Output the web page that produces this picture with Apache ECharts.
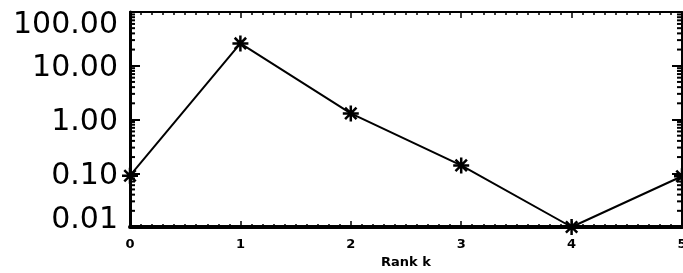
<!DOCTYPE html>
<html>
<head>
<meta charset="utf-8">
<script src="https://cdn.jsdelivr.net/npm/echarts@6/dist/echarts.min.js"></script>
<style>
  html, body { margin: 0; padding: 0; background: #fff; }
  #chart { width: 683px; height: 273px; }
</style>
</head>
<body>
<div id="chart"></div>
<script>
  // rank k and the value at each rank
  const ranks = [0, 1, 2, 3, 4, 5]
  const values = [0.09, 26, 1.3, 0.14, 0.01, 0.088]
  // log minor tick values (2..9 in every decade)
  const decades = [0.01, 0.1, 1, 10]
  const minorSteps = [2, 3, 4, 5, 6, 7, 8, 9]
  const yMinor = []
  decades.forEach(d => minorSteps.forEach(k => yMinor.push(+(d * k).toPrecision(3))))

  const myChart = echarts.init(document.getElementById('chart'))

  // star made of 4 strokes (IDL psym=2 look)
  const star = 'path://M0,-8L0,8M-8,0L8,0M-5.7,-5.7L5.7,5.7M-5.7,5.7L5.7,-5.7'

  const yFont = { color: '#000', fontFamily: 'DejaVu Sans', fontSize: 30 }

  const xBase = {
    type: 'value',
    min: 0,
    max: 5,
    interval: 1,
    splitLine: { show: false },
    axisLine: { onZero: false, lineStyle: { color: '#000', width: 2 } },
    axisTick: { inside: true, length: 6, lineStyle: { color: '#000', width: 1.5 } },
    minorTick: { show: true, splitNumber: 10, length: 3, lineStyle: { color: '#000', width: 1.5 } }
  }
  const yBase = {
    type: 'log',
    logBase: 10,
    min: 0.01,
    max: 100,
    splitLine: { show: false },
    axisLine: { onZero: false, lineStyle: { color: '#000', width: 2 } },
    axisTick: { inside: true, length: 10, lineStyle: { color: '#000', width: 2 } },
    minorTick: { show: false }
  }

  const option = {
    animation: false,
    grid: { left: 130, right: 1, top: 12, bottom: 46, outerBoundsMode: 'none', containLabel: false },
    xAxis: [
      Object.assign({}, xBase, {
        position: 'bottom',
        axisLine: { onZero: false, lineStyle: { color: '#000', width: 4 } },
        axisLabel: {
          color: '#000', fontFamily: 'DejaVu Sans', fontWeight: 'bold', fontSize: 13, margin: 11
        },
        name: 'Rank k',
        nameLocation: 'middle',
        nameGap: 29,
        nameTextStyle: { color: '#000', fontFamily: 'DejaVu Sans', fontWeight: 'bold', fontSize: 13 }
      }),
      Object.assign({}, xBase, { position: 'top', axisLabel: { show: false } })
    ],
    yAxis: [
      Object.assign({}, yBase, {
        position: 'left',
        axisLine: { onZero: false, lineStyle: { color: '#000', width: 3 } },
        axisLabel: Object.assign({}, yFont, {
          margin: 12,
          verticalAlignMinLabel: 'bottom',
          verticalAlignMaxLabel: 'top',
          formatter: function (v) {
            const s = v.toFixed(2)
            if (v >= 100) return '{t|' + s + '}'
            if (v <= 0.01) return '{b|' + s + '}'
            return '{m|' + s + '}'
          },
          rich: {
            t: Object.assign({}, yFont, { lineHeight: 27 }),
            b: Object.assign({}, yFont, { lineHeight: 13 }),
            m: Object.assign({}, yFont, { lineHeight: 30, padding: [5, 0, 0, 0] })
          }
        })
      }),
      Object.assign({}, yBase, { position: 'right', axisLabel: { show: false } })
    ],
    series: [
      {
        // log minor ticks on the left and right frame
        type: 'custom',
        silent: true,
        clip: false,
        data: yMinor.map(v => [0, v]),
        renderItem: function (params, api) {
          const cs = params.coordSys
          const y = api.coord([0, api.value(1)])[1]
          const l = cs.x, r = cs.x + cs.width
          return {
            type: 'group',
            children: [
              { type: 'line', shape: { x1: l, y1: y, x2: l + 5, y2: y }, style: { stroke: '#000', lineWidth: 2 } },
              { type: 'line', shape: { x1: r - 5, y1: y, x2: r, y2: y }, style: { stroke: '#000', lineWidth: 2 } }
            ]
          }
        }
      },
      {
        type: 'line',
        data: ranks.map((r, i) => [r, values[i]]),
        symbol: star,
        symbolSize: 16,
        showAllSymbol: true,
        clip: false,
        lineStyle: { color: '#000', width: 2 },
        itemStyle: { color: 'none', borderColor: '#000', borderWidth: 2.5 }
      }
    ]
  }
  myChart.setOption(option)
  window.addEventListener('resize', function () {
    myChart.resize()
  })
</script>
</body>
</html>
